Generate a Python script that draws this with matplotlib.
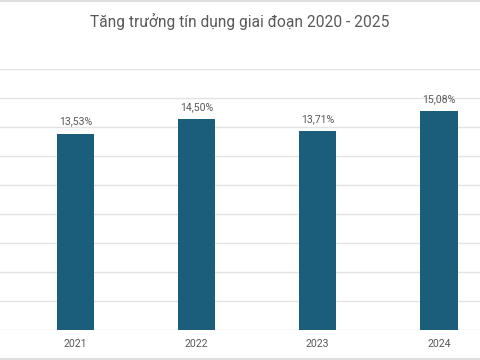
import matplotlib
matplotlib.use("Agg")
import matplotlib.pyplot as plt
from matplotlib.lines import Line2D

years = ["2021", "2022", "2023", "2024"]
growth = [13.53, 14.50, 13.71, 15.08]
labels = ["13,53%", "14,50%", "13,71%", "15,08%"]
title = "Tăng trưởng tín dụng giai đoạn 2020 - 2025"

bar_color = "#1b5e7c"
text_color = "#595959"
grid_color = "#e3e3e3"
plt.rcParams["font.family"] = ["Roboto", "DejaVu Sans"]

fig = plt.figure(figsize=(4.8, 3.6), dpi=100)
# plot area runs off both side edges of the picture (the reference is cropped)
ax = fig.add_axes([0, 29.7 / 360, 1, 261.8 / 360])

x = list(range(len(years)))
ax.bar(x, growth, width=0.31, color=bar_color, zorder=3)
for xi, v, lab in zip(x, growth, labels):
    ax.annotate(lab, (xi, v), xytext=(0, 5), textcoords="offset points",
                ha="center", va="bottom", fontsize=7.6, color=text_color)

ax.set_xlim(-0.623, 3.340)
ax.set_ylim(0, 18)
ax.set_yticks(range(0, 19, 2))
ax.yaxis.grid(True, color=grid_color, linewidth=1)
ax.set_axisbelow(True)
ax.tick_params(axis="y", left=False, labelleft=False)
ax.tick_params(axis="x", length=0, pad=6.5, labelsize=7.6, labelcolor=text_color)
ax.set_xticks(x)
ax.set_xticklabels(years)
for s in ax.spines.values():
    s.set_visible(False)
ax.patch.set_alpha(0)

fig.text(0.5, 1 - 21 / 360, title, ha="center", va="center",
         fontsize=11.2, color=text_color)

# light frame lines at the top and bottom of the chart image
for yy in (1 / 360, 359 / 360):
    fig.add_artist(Line2D([0, 1], [1 - yy, 1 - yy], transform=fig.transFigure,
                          color="#d9d9d9", linewidth=1.2))

fig.savefig("out.png", dpi=100)
